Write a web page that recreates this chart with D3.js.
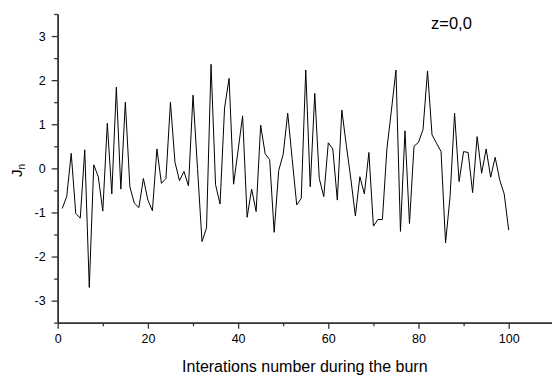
<!DOCTYPE html>
<html>
<head>
<meta charset="utf-8">
<script src="https://cdn.jsdelivr.net/npm/d3@7"></script>
<style>
  html, body { margin: 0; padding: 0; background: #fff; }
  svg { display: block; font-family: "Liberation Sans", Arial, sans-serif; }
</style>
</head>
<body>
<div id="chart"></div>
<script>
// data: J_n for iterations 1..100
const iterations = d3.range(1, 101);
const jValues = [
  -0.91, -0.64, 0.34, -1.02, -1.13, 0.42, -2.70, 0.08, -0.19, -0.97,
  1.02, -0.58, 1.84, -0.47, 1.50, -0.42, -0.79, -0.89, -0.23, -0.72,
  -0.96, 0.44, -0.34, -0.23, 1.50, 0.14, -0.28, -0.07, -0.40, 1.66,
  0.00, -1.66, -1.35, 2.36, -0.37, -0.81, 1.37, 2.04, -0.36, 0.41,
  1.19, -1.11, -0.47, -0.98, 0.98, 0.33, 0.20, -1.45, -0.05, 0.32,
  1.25, 0.20, -0.83, -0.68, 2.23, -0.42, 1.70, -0.23, -0.64, 0.58,
  0.44, -0.72, 1.32, 0.52, -0.24, -1.08, -0.19, -0.58, 0.36, -1.31,
  -1.16, -1.16, 0.45, 1.32, 2.23, -1.43, 0.85, -1.25, 0.50, 0.59,
  0.88, 2.21, 0.76, 0.57, 0.38, -1.69, -0.64, 1.25, -0.30, 0.38,
  0.36, -0.55, 0.72, -0.11, 0.44, -0.20, 0.25, -0.26, -0.58, -1.40
];
const xMajorTicks = [0, 20, 40, 60, 80, 100];
const xMinorTicks = [10, 30, 50, 70, 90];
const yMajorTicks = [-3, -2, -1, 0, 1, 2, 3];
const yMinorTicks = [-3.5, -2.5, -1.5, -0.5, 0.5, 1.5, 2.5, 3.5];
const xTitle = "Interations number during the burn";
const note = "z=0,0";

const width = 552, height = 378;
const plotLeft = 57.7, plotTop = 14, plotBottom = 322.7;

const svg = d3.select("#chart").append("svg")
  .attr("width", width)
  .attr("height", height);

const x = d3.scaleLinear().domain([0, 110]).range([plotLeft, plotLeft + 110 * 4.51]);
const y = d3.scaleLinear().domain([-3.5, 3.5]).range([plotBottom, plotTop]);

// axes: major ticks with labels, minor ticks without
function styleAxis(g) {
  g.select(".domain").attr("stroke", "#333").attr("stroke-width", 1.5);
  g.selectAll(".tick line").attr("stroke", "#333").attr("stroke-width", 1.3);
  g.selectAll(".tick text").attr("fill", "#000").style("font-size", "12.5px");
}
const plain = d => String(d);

svg.append("g")
  .attr("transform", `translate(0,${plotBottom})`)
  .call(d3.axisBottom(x).tickValues(xMinorTicks).tickSize(3.5).tickFormat("").tickSizeOuter(0))
  .call(styleAxis);
svg.append("g")
  .attr("transform", `translate(0,${plotBottom})`)
  .call(d3.axisBottom(x).tickValues(xMajorTicks).tickFormat(plain).tickSize(6).tickPadding(5).tickSizeOuter(0))
  .call(styleAxis);

svg.append("g")
  .attr("transform", `translate(${plotLeft},0)`)
  .call(d3.axisLeft(y).tickValues(yMinorTicks).tickSize(3.5).tickFormat("").tickSizeOuter(0))
  .call(styleAxis);
svg.append("g")
  .attr("transform", `translate(${plotLeft},0)`)
  .call(d3.axisLeft(y).tickValues(yMajorTicks).tickFormat(plain).tickSize(6).tickPadding(6).tickSizeOuter(0))
  .call(styleAxis);

// the series
const line = d3.line()
  .x((d, i) => x(iterations[i]))
  .y(d => y(d));
svg.append("path")
  .attr("d", line(jValues))
  .attr("fill", "none")
  .attr("stroke", "#000")
  .attr("stroke-width", 1);

// titles
svg.append("text")
  .attr("x", (plotLeft + 552) / 2)
  .attr("y", 372)
  .attr("text-anchor", "middle")
  .style("font-size", "16px")
  .text(xTitle);

const yt = svg.append("text")
  .attr("transform", `translate(22,${y(0) + 2}) rotate(-90)`)
  .attr("text-anchor", "middle")
  .style("font-size", "15px");
yt.append("tspan").text("J");
yt.append("tspan").attr("dy", 3).style("font-size", "10px").text("n");

svg.append("text")
  .attr("x", 431)
  .attr("y", 28.5)
  .style("font-size", "16.5px")
  .text(note);
</script>
</body>
</html>
